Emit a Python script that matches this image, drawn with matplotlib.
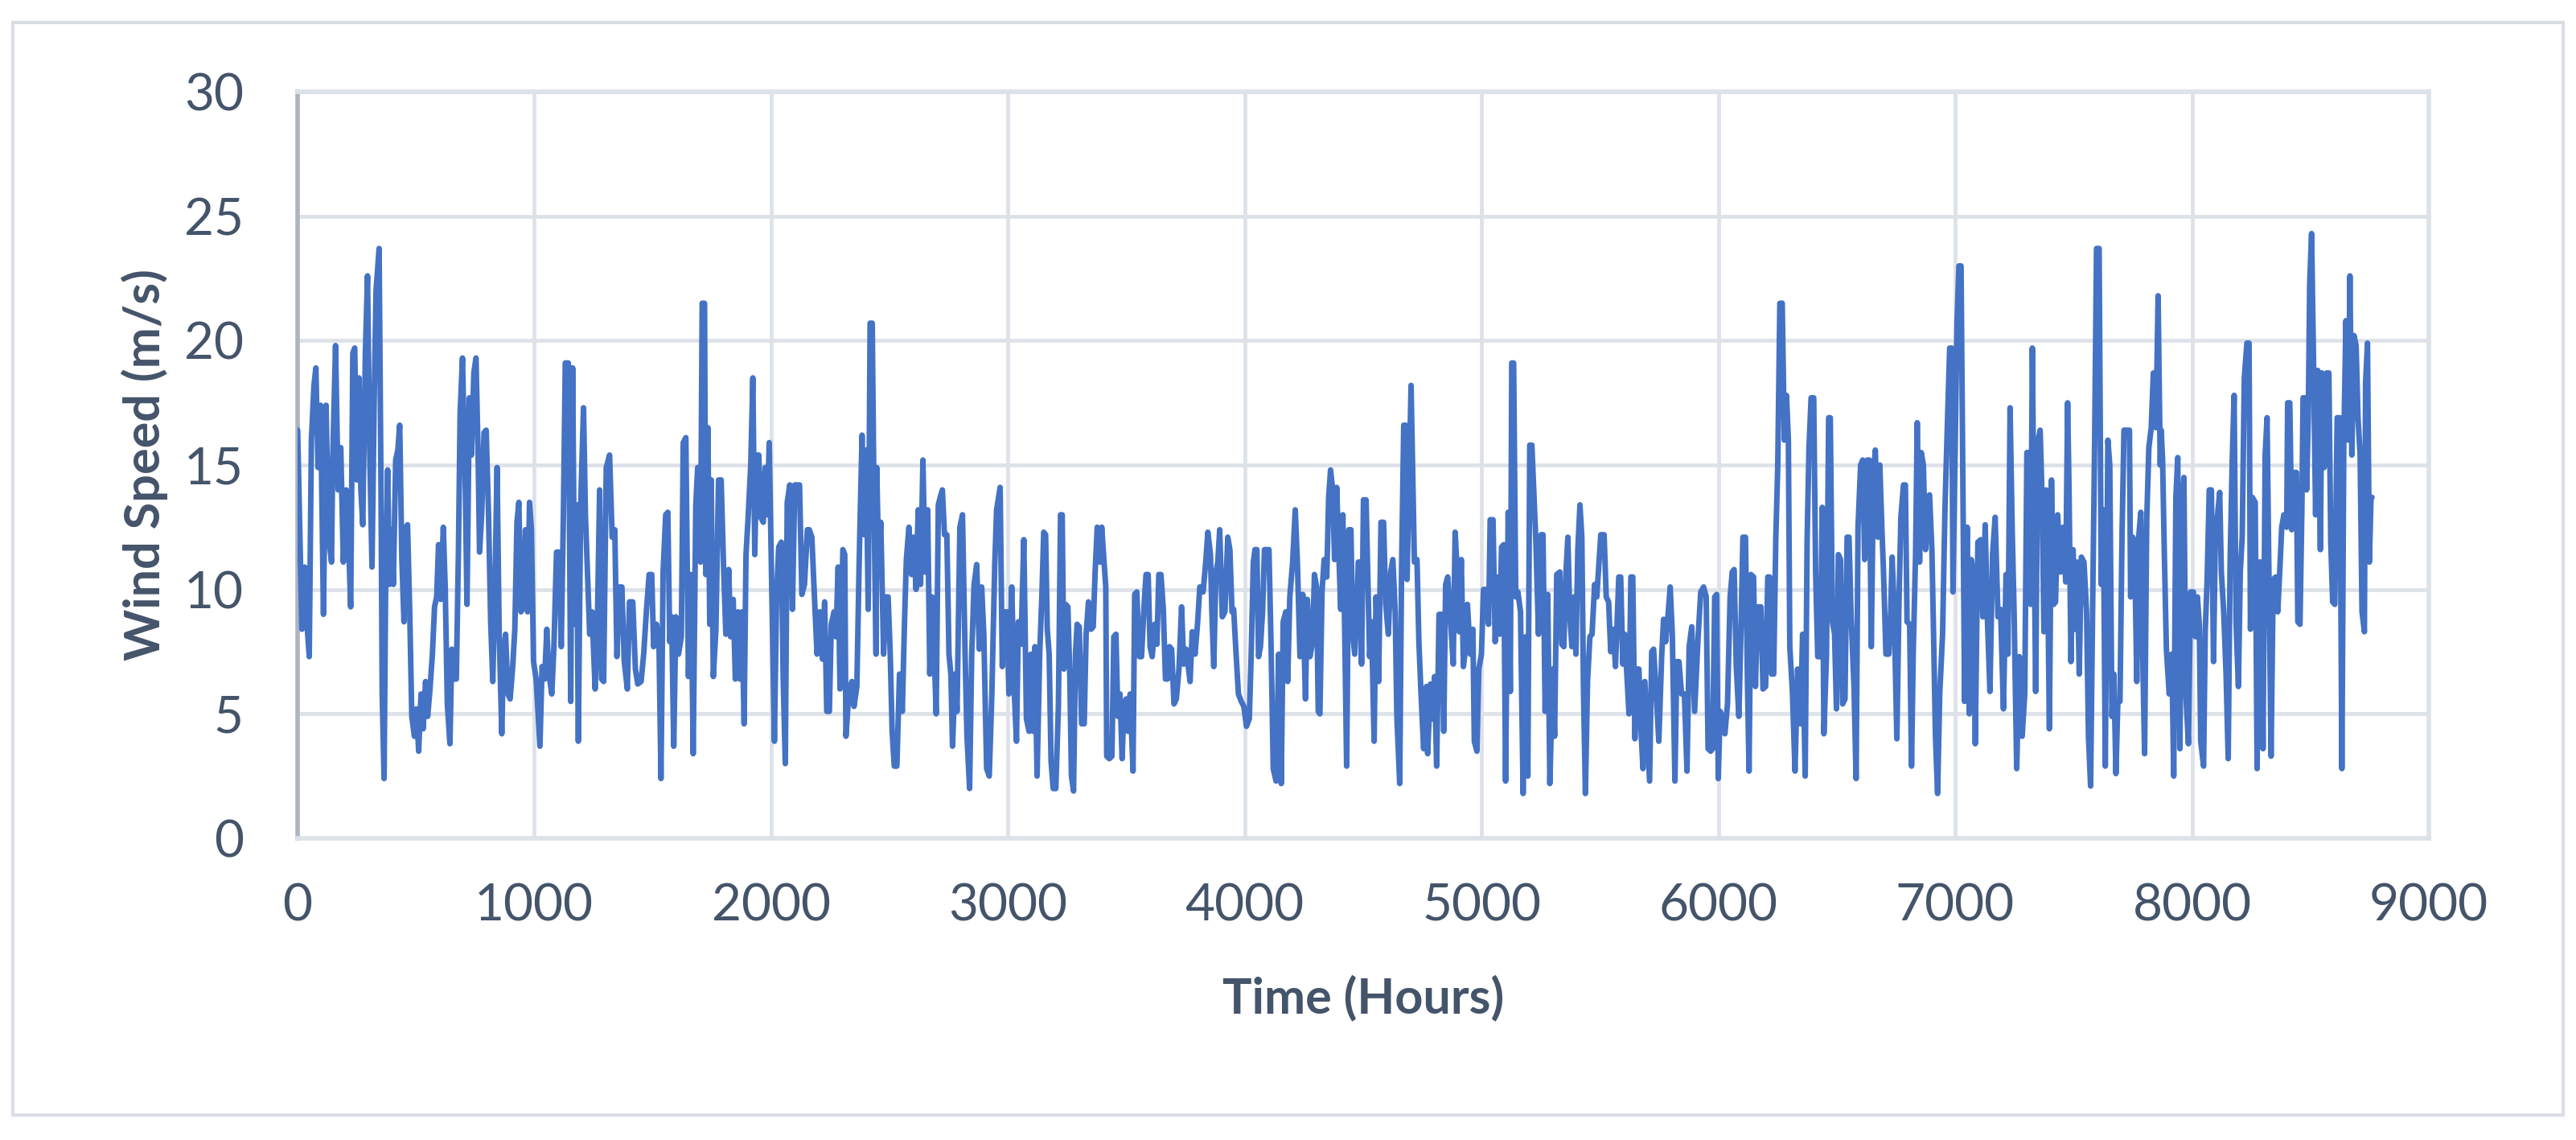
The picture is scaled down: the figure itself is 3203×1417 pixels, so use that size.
import numpy as np
import matplotlib
matplotlib.use('Agg')
import matplotlib.pyplot as plt
from matplotlib.patches import Rectangle

# hourly wind speed (m/s) in chunks of ~1000 h
seg_0 = [(2,16.4),(20,8.4),(32,10.9),(43,8.4),(51,7.3),(60,16.0),(71,18.2),(79,18.9),(88,14.9),(99,17.4),(111,9.0),(122,17.4),(133,12.1),(145,11.1),(150,15.2),(162,19.8),(173,14.0),(184,15.7),(195,11.1),(207,14.0),(218,11.6),(226,9.3),(235,19.5),(243,19.7),(252,14.4),(261,18.5),(269,14.0),(277,12.6),(288,19.5),(297,22.6),(306,15.7),(316,10.9),(325,17.5),(333,22.0),(346,23.7),(354,14.0),(359,5.8),(367,2.4),(374,10.7),(382,14.8),(390,10.2),(399,12.4),(406,10.2),(416,15.2),(425,15.6),(433,16.6),(442,11.2),(451,8.7),(459,12.5),(466,12.6),(475,9.2),(484,4.9),(495,4.1),(504,5.2),(513,3.5),(523,5.8),(532,4.4),(542,6.3),(551,4.9),(560,5.9),(571,7.4),(580,9.3),(589,9.7),(597,11.8),(606,9.6),(617,12.5),(625,10.1),(634,5.4),(645,3.8),(653,7.6),(663,6.4),(672,6.4),(681,11.6),(688,17.1),(698,19.3),(710,14.0),(717,9.4),(727,17.7),(736,15.4),(746,18.7),(755,19.3),(764,15.4),(770,11.5),(779,13.0),(789,16.3),(798,16.4),(808,13.0),(817,8.7),(826,6.3),(836,10.7),(844,14.9),(853,8.2),(864,4.2),(871,7.4),(880,8.2),(890,5.8),(899,5.6),(910,6.9),(919,8.4),(928,12.7),(936,13.5),(945,9.1),(955,9.4),(964,12.4),(973,9.1),(981,13.5),(989,12.4),(998,7.1),(1009,6.4)]
seg_1 = [(1025,3.7),(1034,6.9),(1045,6.4),(1054,8.4),(1063,6.6),(1075,5.8),(1084,7.7),(1095,11.5),(1106,11.5),(1115,7.7),(1124,13.0),(1132,19.1),(1145,19.1),(1155,5.5),(1163,18.9),(1172,8.6),(1180,13.4),(1187,3.9),(1197,13.4),(1209,17.3),(1217,13.0),(1226,10.6),(1235,8.2),(1245,9.1),(1258,6.0),(1268,8.9),(1277,14.0),(1285,6.4),(1294,6.3),(1305,14.9),(1319,15.4),(1330,12.1),(1341,12.4),(1350,7.3),(1361,10.1),(1371,10.1),(1381,7.1),(1394,6.0),(1403,9.5),(1417,9.5),(1428,6.8),(1438,6.2),(1452,6.3),(1463,7.4),(1475,9.2),(1486,10.6),(1497,10.6),(1505,7.7),(1517,8.6),(1528,7.6),(1536,2.4),(1545,10.7),(1556,13.0),(1565,13.1),(1573,7.9),(1581,8.9),(1590,3.7),(1599,8.9),(1610,7.4),(1622,8.1),(1630,15.9),(1641,16.1),(1652,6.5),(1663,10.6),(1672,3.4),(1683,13.4),(1691,14.9),(1703,11.1),(1710,21.5),(1720,21.5),(1725,10.6),(1734,16.5),(1742,8.6),(1748,14.4),(1757,6.5),(1768,8.4),(1779,14.4),(1790,14.4),(1801,10.7),(1810,8.2),(1822,10.8),(1830,8.1),(1841,9.6),(1850,6.4),(1861,9.1),(1869,6.4),(1878,9.1),(1887,4.6),(1895,11.4),(1904,12.9),(1915,15.0),(1924,18.5),(1932,11.4),(1940,15.4),(1949,15.4),(1957,12.9),(1968,12.7),(1976,14.9),(1985,13.0),(1993,15.9)]
seg_2 = [(2007,8.2),(2015,3.9),(2024,9.7),(2033,11.7),(2044,11.9),(2052,6.4),(2061,3.0),(2069,13.5),(2080,14.2),(2091,9.2),(2101,14.2),(2112,14.2),(2121,14.2),(2131,9.8),(2142,10.2),(2154,12.4),(2162,12.4),(2173,12.1),(2184,9.7),(2195,7.4),(2207,9.1),(2218,7.2),(2227,9.5),(2236,5.1),(2247,5.1),(2255,8.6),(2267,9.1),(2275,8.1),(2284,10.9),(2292,6.0),(2304,11.6),(2312,11.4),(2317,4.1),(2329,5.8),(2342,6.3),(2351,5.3),(2363,6.1),(2372,10.7),(2377,12.9),(2385,16.2),(2394,12.2),(2402,15.6),(2411,9.2),(2419,20.7),(2428,20.7),(2436,13.0),(2444,7.4),(2447,14.9),(2455,11.1),(2464,12.7),(2476,7.4),(2485,9.7),(2495,9.7),(2504,7.4),(2512,4.3),(2521,2.9),(2532,2.9),(2543,6.6),(2555,5.1),(2564,8.6),(2572,11.2),(2583,12.5),(2594,10.6),(2602,12.1),(2613,10.0),(2622,13.2),(2632,10.2),(2642,15.2),(2651,10.7),(2662,13.2),(2671,6.6),(2681,9.7),(2690,7.3),(2698,5.0),(2707,13.4),(2715,13.7),(2724,14.0),(2733,12.2),(2743,12.2),(2752,7.4),(2760,6.6),(2767,3.7),(2778,6.6),(2786,5.1),(2798,12.5),(2809,13.0),(2820,7.4),(2828,4.1),(2839,2.0),(2848,7.4),(2858,10.2),(2869,11.0),(2880,7.6),(2890,10.1),(2899,8.2),(2911,2.8),(2922,2.5),(2933,5.8),(2945,10.9),(2953,13.2)]
seg_3 = [(2968,14.1),(2977,6.9),(2986,9.1),(2997,9.1),(3005,5.8),(3017,10.1),(3028,5.8),(3037,3.9),(3045,8.7),(3056,7.8),(3068,12.0),(3079,4.8),(3090,4.3),(3098,7.4),(3107,4.3),(3115,7.7),(3124,2.5),(3135,7.4),(3144,9.7),(3152,12.3),(3160,12.2),(3167,8.4),(3175,7.4),(3183,3.1),(3192,2.0),(3203,2.0),(3214,5.3),(3223,13.0),(3230,13.0),(3237,6.8),(3245,9.4),(3254,9.3),(3262,6.6),(3269,2.5),(3278,1.9),(3286,7.4),(3293,8.6),(3302,8.5),(3312,4.6),(3323,4.6),(3331,8.2),(3341,9.5),(3352,8.4),(3361,8.5),(3369,10.7),(3378,12.5),(3390,11.1),(3397,12.5),(3406,11.2),(3414,10.1),(3418,3.3),(3429,3.2),(3440,3.3),(3448,8.1),(3457,8.2),(3465,4.9),(3474,5.8),(3483,3.2),(3491,5.4),(3500,5.6),(3508,4.3),(3517,5.8),(3529,2.7),(3536,9.8),(3545,9.9),(3556,7.3),(3565,7.3),(3576,9.4),(3584,10.6),(3593,10.6),(3601,7.7),(3610,7.3),(3621,8.6),(3630,7.8),(3638,10.6),(3647,10.6),(3657,9.2),(3666,6.4),(3675,6.4),(3683,7.7),(3692,7.6),(3702,5.4),(3712,5.6),(3723,6.8),(3734,9.3),(3743,7.0),(3753,7.6),(3762,6.9),(3770,6.3),(3779,8.3),(3791,7.4),(3802,8.7),(3811,10.1),(3825,9.9),(3836,11.1),(3845,12.3),(3856,11.4),(3862,9.1),(3870,6.9),(3879,10.7),(3887,11.1),(3895,12.4),(3906,8.9),(3917,9.1),(3929,12.1),(3938,11.6),(3947,9.1)]
seg_4 = [(3954,9.2),(3963,7.6),(3974,5.8),(3986,5.5),(3997,5.3),(4008,4.5),(4020,4.8),(4028,7.4),(4037,11.1),(4044,11.6),(4052,11.6),(4059,7.3),(4067,7.7),(4076,9.1),(4084,11.6),(4095,11.6),(4103,11.6),(4112,7.7),(4121,2.8),(4133,2.3),(4144,7.4),(4155,2.2),(4163,8.7),(4174,9.1),(4182,6.3),(4191,9.7),(4203,11.1),(4214,13.2),(4223,11.1),(4234,7.3),(4246,9.8),(4257,5.6),(4265,9.6),(4276,7.3),(4287,7.9),(4295,10.6),(4304,10.1),(4311,5.1),(4318,5.0),(4327,9.9),(4336,11.2),(4347,10.5),(4355,13.7),(4363,14.8),(4372,14.0),(4380,11.2),(4389,14.1),(4397,11.7),(4406,9.2),(4415,13.0),(4423,8.2),(4431,2.9),(4440,12.4),(4449,12.4),(4457,8.2),(4465,7.4),(4474,9.1),(4480,11.1),(4487,11.1),(4494,7.0),(4502,13.6),(4513,13.6),(4522,9.9),(4528,7.3),(4536,8.7),(4547,3.9),(4555,9.7),(4566,6.3),(4576,12.7),(4587,12.7),(4596,9.4),(4607,8.2),(4617,10.7),(4626,11.2),(4636,9.1),(4643,4.9),(4655,2.2),(4663,10.9),(4672,16.6),(4680,16.6),(4686,10.4),(4694,14.0),(4703,18.2),(4711,14.2),(4717,11.1),(4728,11.2),(4736,7.9),(4745,5.8),(4756,3.6),(4768,6.1),(4773,3.4),(4785,6.2),(4793,4.8),(4802,6.5),(4811,2.9),(4821,9.0),(4832,9.0),(4841,4.3),(4849,10.2),(4858,10.5),(4869,8.9),(4881,7.0),(4889,12.3),(4898,10.7),(4906,8.3),(4915,11.2),(4924,6.9)]
seg_5 = [(4930,7.4),(4941,9.4),(4953,7.4),(4964,8.4),(4970,3.9),(4981,3.5),(4989,6.8),(5000,7.4),(5009,10.0),(5018,10.0),(5030,8.6),(5037,12.8),(5049,12.8),(5058,7.9),(5068,10.5),(5077,8.2),(5085,11.7),(5094,11.8),(5102,2.3),(5113,13.1),(5122,5.9),(5128,19.1),(5136,19.1),(5145,9.7),(5154,9.9),(5165,9.1),(5176,1.8),(5187,8.1),(5196,2.5),(5204,15.8),(5213,15.8),(5222,13.7),(5230,11.9),(5241,8.2),(5252,12.2),(5260,12.2),(5269,5.1),(5280,9.8),(5289,2.2),(5301,6.8),(5309,4.1),(5318,10.6),(5331,10.7),(5339,7.8),(5348,7.7),(5357,10.7),(5365,12.1),(5373,9.0),(5382,7.7),(5391,9.7),(5399,7.4),(5407,11.6),(5416,13.4),(5424,12.1),(5431,5.9),(5439,1.8),(5448,6.3),(5458,8.1),(5467,8.2),(5478,10.2),(5487,9.7),(5495,10.9),(5504,12.2),(5518,12.2),(5527,9.7),(5537,9.5),(5546,7.5),(5557,8.4),(5566,6.9),(5580,10.5),(5588,10.5),(5597,7.0),(5605,8.2),(5614,6.6),(5623,5.0),(5631,10.5),(5639,10.5),(5648,4.0),(5657,6.8),(5665,6.8),(5674,4.3),(5682,2.8),(5690,6.3),(5701,4.1),(5710,2.3),(5719,7.5),(5727,7.6),(5738,5.8),(5749,3.9),(5761,7.3),(5769,8.8),(5778,7.9),(5789,9.1),(5797,10.1),(5806,8.2),(5817,2.3),(5825,7.1),(5834,7.1),(5845,5.8),(5857,5.8),(5868,2.7),(5877,7.7),(5888,8.5),(5900,5.1)]
seg_6 = [(5915,8.1),(5926,9.9),(5938,10.1),(5949,9.7),(5957,3.6),(5968,3.5),(5976,3.6),(5985,9.7),(5993,9.8),(6000,2.4),(6008,5.1),(6017,4.9),(6028,4.2),(6039,5.4),(6050,9.7),(6059,10.7),(6067,10.8),(6076,6.9),(6087,4.9),(6096,8.4),(6104,12.1),(6115,12.1),(6123,6.4),(6130,2.7),(6138,10.6),(6149,10.5),(6157,6.1),(6166,9.3),(6180,9.3),(6189,6.0),(6200,6.1),(6209,10.5),(6217,10.5),(6225,6.6),(6234,6.6),(6243,12.1),(6251,14.9),(6260,21.5),(6270,21.5),(6279,16.0),(6288,17.8),(6296,16.0),(6302,7.7),(6313,5.9),(6324,2.7),(6335,6.8),(6347,4.6),(6356,8.2),(6367,2.5),(6375,11.9),(6383,15.7),(6392,17.7),(6403,17.7),(6411,10.7),(6420,7.3),(6431,7.3),(6439,13.3),(6446,4.2),(6457,7.4),(6466,16.9),(6473,16.9),(6482,8.7),(6491,8.2),(6499,5.2),(6507,11.4),(6516,11.2),(6525,5.4),(6535,5.6),(6544,12.1),(6552,12.1),(6561,8.9),(6573,6.1),(6582,2.4),(6590,12.5),(6601,15.0),(6610,15.2),(6618,11.2),(6629,15.2),(6638,15.2),(6646,7.7),(6655,14.4),(6663,15.6),(6674,12.1),(6682,15.0),(6691,12.4),(6697,10.9),(6708,7.4),(6720,7.4),(6728,9.1),(6734,11.3),(6742,9.4),(6754,4.0),(6763,9.5),(6771,12.9),(6782,14.2),(6790,14.2),(6797,8.7),(6808,8.6),(6816,2.9),(6823,7.4),(6833,11.4),(6840,16.7),(6850,11.1),(6857,15.5),(6866,15.0),(6875,11.6)]
seg_7 = [(6892,13.8),(6902,11.6),(6909,8.2),(6917,4.1),(6926,1.8),(6935,5.8),(6947,8.2),(6957,13.2),(6966,16.2),(6977,19.7),(6985,19.7),(6991,9.9),(7000,15.7),(7008,20.7),(7016,23.0),(7025,23.0),(7033,14.0),(7040,5.5),(7051,12.5),(7060,5.0),(7068,11.2),(7076,10.7),(7085,3.8),(7096,11.9),(7108,12.0),(7117,8.9),(7127,12.6),(7136,8.9),(7147,5.9),(7158,11.4),(7169,12.9),(7181,8.9),(7192,9.2),(7204,5.2),(7215,10.6),(7223,7.4),(7232,17.3),(7241,12.4),(7249,9.1),(7260,2.8),(7271,7.3),(7283,4.1),(7294,5.8),(7303,15.5),(7311,15.5),(7319,9.4),(7326,19.7),(7334,11.6),(7340,5.9),(7349,15.9),(7359,16.4),(7368,13.4),(7375,8.3),(7384,14.0),(7393,8.7),(7398,4.4),(7407,14.4),(7416,9.4),(7424,9.5),(7433,13.0),(7445,10.7),(7456,12.5),(7467,10.3),(7475,17.5),(7481,14.0),(7489,7.1),(7498,11.6),(7507,8.4),(7515,11.1),(7524,6.6),(7533,11.3),(7544,11.1),(7555,9.1),(7563,4.1),(7572,2.1),(7581,9.6),(7589,15.9),(7597,23.7),(7608,23.7),(7617,10.2),(7626,13.2),(7634,2.9),(7645,16.0),(7653,15.0),(7662,4.9),(7670,6.6),(7679,2.6),(7687,5.5),(7696,5.5),(7705,12.4),(7713,16.4),(7724,16.4),(7736,16.4),(7741,9.7),(7750,12.1),(7758,11.6),(7767,6.3),(7775,12.1),(7784,13.1),(7792,7.4),(7800,3.4),(7809,12.8),(7818,15.7),(7828,16.5),(7837,18.7),(7848,16.5),(7857,21.8),(7866,15.0)]
seg_8 = [(7870,16.4),(7876,15.2),(7883,11.6),(7892,7.6),(7904,5.8),(7915,7.4),(7923,2.5),(7932,13.7),(7940,15.3),(7949,3.6),(7958,13.0),(7966,14.5),(7974,5.8),(7985,3.8),(7994,9.9),(8006,9.9),(8015,8.1),(8023,9.7),(8031,8.6),(8037,3.9),(8049,2.9),(8056,8.3),(8064,10.4),(8073,14.0),(8082,14.0),(8091,7.1),(8099,12.4),(8108,13.0),(8117,13.9),(8124,10.7),(8134,9.1),(8144,6.6),(8153,3.2),(8161,11.1),(8170,15.2),(8178,17.8),(8186,8.7),(8196,6.1),(8204,10.7),(8212,12.1),(8221,18.5),(8232,19.9),(8241,19.9),(8247,8.4),(8255,13.7),(8267,13.5),(8275,2.8),(8283,11.1),(8292,11.1),(8300,3.6),(8309,15.4),(8317,16.9),(8325,10.5),(8334,3.3),(8343,10.4),(8353,10.5),(8362,9.1),(8370,10.6),(8379,12.5),(8388,13.0),(8400,12.5),(8404,17.5),(8413,17.5),(8421,12.4),(8430,14.7),(8441,14.7),(8447,8.7),(8456,8.6),(8464,13.2),(8469,17.7),(8478,17.7),(8484,14.0),(8491,16.9),(8497,22.3),(8505,24.3),(8513,19.3),(8522,13.0),(8531,18.8),(8542,11.6),(8549,18.7),(8558,14.9),(8569,18.7),(8578,18.7),(8586,11.9),(8594,9.5),(8603,9.4),(8613,16.9),(8624,16.9),(8633,2.8),(8641,15.9),(8650,20.8),(8659,16.0),(8667,22.6),(8675,15.4),(8684,20.2),(8693,19.8),(8701,16.9),(8710,15.4),(8718,9.1),(8728,8.3),(8733,18.3),(8741,19.9),(8749,11.1),(8756,13.7),(8760,13.7)]

x_ticks = [0, 1000, 2000, 3000, 4000, 5000, 6000, 7000, 8000, 9000]
y_ticks = [0, 5, 10, 15, 20, 25, 30]

segments = [seg_0, seg_1, seg_2, seg_3, seg_4, seg_5, seg_6, seg_7, seg_8]
pts = [p for s in segments for p in s]
hours = np.array([p[0] for p in pts])
speed = np.array([p[1] for p in pts])

TXT = '#44546A'
GRID = '#DDE1E8'
plt.rcParams['font.family'] = ['Lato', 'DejaVu Sans']

fig = plt.figure(figsize=(32.03, 14.17), dpi=100)
# light outer border like the excel chart area
fig.patches.append(Rectangle((16/3203, 1 - 1386/1417), 3171/3203, 1358/1417,
                             transform=fig.transFigure, fill=False,
                             edgecolor='#D9DEE6', lw=3))

ax = fig.add_axes([369.5/3203, 1 - 1042/1417, 2650.5/3203, 928/1417])
ax.plot(hours, speed, color='#4472C4', lw=5, solid_joinstyle='round', solid_capstyle='round', zorder=3)

ax.set_xlim(0, 9000)
ax.set_ylim(0, 30)
ax.set_xticks(x_ticks)
ax.set_yticks(y_ticks)
ax.grid(True, color=GRID, lw=3.4, zorder=0)
ax.set_axisbelow(True)
for side in ['top', 'right', 'bottom']:
    ax.spines[side].set_color(GRID)
    ax.spines[side].set_linewidth(4)
ax.spines['left'].set_color('#ADB5C3')
ax.spines['left'].set_linewidth(4)
ax.tick_params(length=0, labelsize=46, labelcolor=TXT, pad=40)
ax.tick_params(axis='y', pad=48)

ax.set_xlabel('Time (Hours)', fontsize=44, fontweight='bold', color=TXT, va='center')
ax.set_ylabel('Wind Speed (m/s)', fontsize=44, fontweight='bold', color=TXT, va='center')
ax.xaxis.set_label_coords(0.5, (1042 - 1240) / 928)
ax.yaxis.set_label_coords((180 - 369.5) / 2650.5, 0.5)

fig.savefig('out.png', dpi=100)
